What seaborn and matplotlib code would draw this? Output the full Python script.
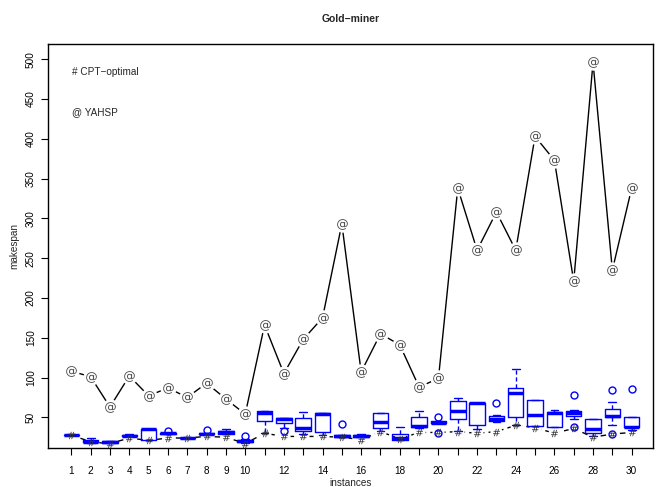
import numpy as np
import pandas as pd
import matplotlib
matplotlib.use("Agg")
import matplotlib.pyplot as plt
import seaborn as sns

# instances of the Gold-miner domain
instances = list(range(1, 31))

# YAHSP makespan per instance (@)
yahsp = [108, 101, 63, 102, 77, 87, 75, 93, 73, 54,
         166, 105, 148, 175, 293, 107, 155, 141, 88, 99,
         338, 260, 308, 260, 403, 373, 221, 496, 235, 338]

# CPT optimal makespan per instance (#)
cpt_opt = [28, 19, 17, 24, 21, 24, 24, 26, 25, 17,
           30, 26, 26, 26, 25, 22, 32, 23, 31, 31,
           32, 30, 32, 40, 37, 30, 36, 25, 29, 31]

# box summaries of the evolutionary runs: whisker ends, quartiles, median
box_lo = [27.5, 18.2, 17.3, 26.0, 21.5, 29.0, 24.0, 28.3, 29.0, 17.3,
          30.6, 37.0, 29.0, 27.4, 25.0, 25.0, 32.8, 21.5, 36.2, 42.5,
          33.3, 35.0, 44.5, 40.3, 39.0, 37.5, 47.9, 26.0, 40.3, 34.0]
box_q1 = [27.8, 18.6, 17.6, 26.3, 21.5, 29.5, 24.2, 28.5, 29.5, 19.0,
          45.7, 43.0, 32.8, 31.2, 25.3, 25.3, 36.2, 21.8, 38.2, 42.8,
          47.5, 40.3, 44.8, 50.7, 39.0, 37.5, 51.6, 30.0, 50.0, 37.5]
box_med = [28.0, 19.5, 18.5, 27.0, 34.8, 30.0, 24.4, 29.0, 31.0, 20.0,
           55.8, 48.5, 36.2, 54.5, 26.0, 26.0, 43.7, 23.6, 39.5, 43.5,
           58.3, 67.5, 47.9, 80.0, 52.9, 55.0, 55.8, 35.0, 51.6, 37.5]
box_q3 = [28.4, 22.0, 20.2, 28.3, 35.0, 30.5, 24.6, 30.5, 33.2, 21.5,
          58.3, 49.5, 48.8, 55.0, 27.5, 27.5, 55.8, 29.0, 50.7, 45.0,
          70.9, 68.4, 51.6, 86.5, 71.8, 57.0, 58.0, 47.5, 60.4, 50.0]
box_hi = [28.6, 24.4, 20.6, 28.6, 35.0, 30.5, 24.8, 30.5, 35.7, 22.4,
          58.3, 49.5, 57.0, 55.0, 27.8, 28.6, 55.8, 38.2, 58.3, 45.0,
          74.7, 68.4, 53.3, 110.7, 71.8, 59.2, 58.8, 47.5, 69.0, 50.0]
# outlying runs (nan = none)
nan = np.nan
out_low = [nan, nan, nan, nan, nan, nan, nan, nan, nan, nan,
           nan, 32.5, nan, nan, nan, nan, nan, nan, nan, 30.6,
           nan, nan, nan, nan, nan, nan, 37.5, nan, 28.6, nan]
out_high = [nan, nan, nan, nan, nan, 33.0, nan, 34.0, nan, 27.0,
            nan, nan, nan, nan, 41.0, nan, nan, nan, nan, 50.7,
            nan, nan, 67.6, nan, nan, nan, 78.0, nan, 84.0, 86.0]


def runs_from_summary(i):
    # nine runs whose quartiles / whiskers reproduce the summary
    lo, q1, md, q3, hi = box_lo[i], box_q1[i], box_med[i], box_q3[i], box_hi[i]
    first = lo if np.isnan(out_low[i]) else out_low[i]
    last = hi if np.isnan(out_high[i]) else out_high[i]
    return [first, lo, q1, (q1 + md) / 2, md, (md + q3) / 2, q3, hi, last]


rows = []
for i, inst in enumerate(instances):
    for v in runs_from_summary(i):
        rows.append({"instance": inst, "makespan": v})
df = pd.DataFrame(rows)

sns.set_style("white")
plt.rcParams["font.family"] = ["Liberation Sans", "DejaVu Sans"]

fig = plt.figure(figsize=(6.63, 4.87), dpi=100)
ax = fig.add_axes([0.0729, 0.0795, 0.9125, 0.8302])

# CPT-optimal: dashed line with gaps round the points
sns.lineplot(x=instances, y=cpt_opt, color="black", linewidth=1,
             linestyle=(0, (4, 3)), marker="o", markersize=8,
             markerfacecolor="white", markeredgecolor="white", ax=ax, zorder=1)

sns.boxplot(data=df, x="instance", y="makespan", native_scale=True,
            width=0.8, fill=False, color="blue", linecolor="blue",
            linewidth=1, whis=1.5, ax=ax, zorder=2,
            boxprops=dict(color="blue"),
            capprops=dict(color="blue"),
            medianprops=dict(linewidth=2.5, color="blue"),
            whiskerprops=dict(linestyle=(0, (3, 2)), color="blue"),
            flierprops=dict(marker="o", markersize=5, markerfacecolor="none",
                            markeredgecolor="blue", markeredgewidth=1))

sns.scatterplot(x=instances, y=cpt_opt, marker="$\\#$", s=28, color="#333333",
                linewidth=0, ax=ax, zorder=4)

# YAHSP: solid line with gaps round the points
sns.lineplot(x=instances, y=yahsp, color="black", linewidth=1,
             marker="o", markersize=11, markerfacecolor="white",
             markeredgecolor="white", ax=ax, zorder=1)
sns.scatterplot(x=instances, y=yahsp, marker="$@$", s=60, color="#4a4a4a",
                linewidth=0, ax=ax, zorder=4)

ax.set_xlim(-0.19, 31.12)
ax.set_ylim(11.1, 519.2)

xt_labels = [str(i) if (i <= 10 or i % 2 == 0) else "" for i in instances]
ax.set_xticks(instances)
ax.set_xticklabels(xt_labels)
yt = list(range(50, 501, 50))
ax.set_yticks(yt)
ax.set_yticklabels([str(v) for v in yt], rotation=90, va="center")
ax.tick_params(axis="both", direction="out", length=5, width=0.8,
               labelsize=7.2, color="black", labelcolor="black",
               bottom=True, left=True)
ax.tick_params(axis="x", pad=8)
ax.tick_params(axis="y", pad=4)

for s in ax.spines.values():
    s.set_visible(True)
    s.set_color("black")
    s.set_linewidth(1)

ax.set_xlabel("instances", fontsize=7.2, labelpad=1)
ax.set_ylabel("makespan", fontsize=7.2, labelpad=5)
ax.set_title("Gold\u2212miner", fontsize=7.5, fontweight="bold", pad=16)

ax.text(0.0387, 0.930, "# CPT\u2212optimal", transform=ax.transAxes,
        fontsize=7.2, ha="left", va="center")
ax.text(0.0387, 0.8326, "@ YAHSP", transform=ax.transAxes,
        fontsize=7.2, ha="left", va="center")

fig.savefig("out.png", dpi=100)
